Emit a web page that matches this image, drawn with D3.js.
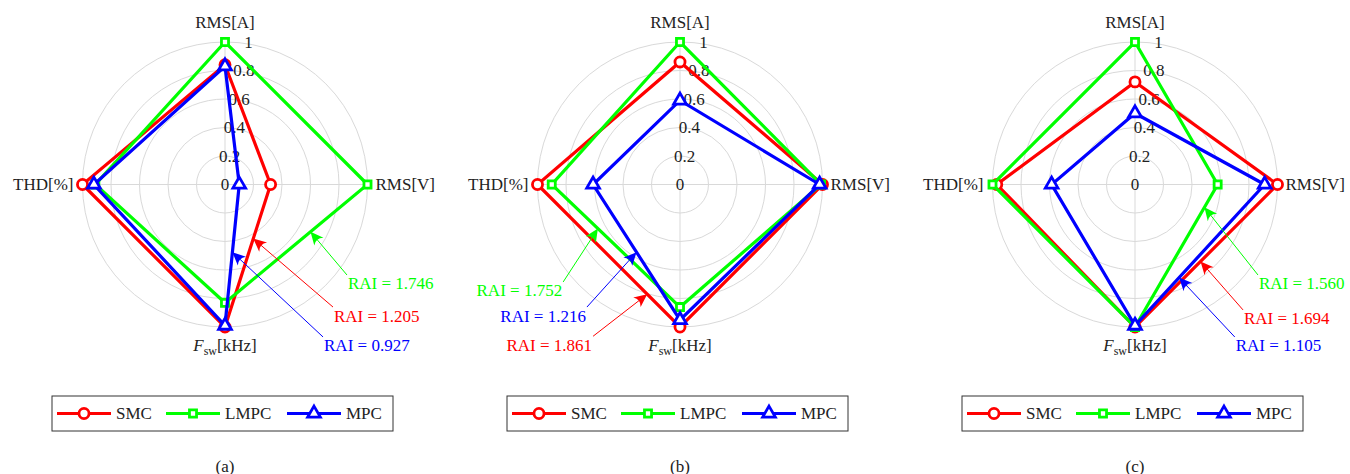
<!DOCTYPE html>
<meta charset="utf-8">
<style>
body { margin: 0; background: #fff; }
text { font-family: "Liberation Serif", "Times New Roman", serif; fill: #222; }
.grid { fill: none; stroke: #d9d9d9; stroke-width: 1px; }
.series { fill: none; stroke-width: 3.2px; stroke-linejoin: miter; }
</style>
<body>
<script src="https://d3js.org/d3.v7.min.js"></script>
<script>

// ---- data ----
var panels = ["(a)", "(b)", "(c)"];
var axisNames = ["RMS[V]", "RMS[A]", "THD[%]", "Fsw[kHz]"];   // counter-clockwise from the right
var axisAngles = [0, 90, 180, 270];
var ticks = [0, 0.2, 0.4, 0.6, 0.8, 1];
var seriesNames = ["SMC", "LMPC", "MPC"];
var seriesColors = ["#ff0000", "#00ff00", "#0000ff"];

// values per panel, in axis order RMS[V], RMS[A], THD[%], Fsw
var smc  = [[0.32, 0.84, 1.00, 1.00], [1.00, 0.86, 1.00, 1.00], [1.00, 0.72, 0.97, 1.00]];
var lmpc = [[1.00, 1.00, 0.91, 0.83], [0.99, 1.00, 0.90, 0.86], [0.58, 1.00, 1.00, 1.00]];
var mpc  = [[0.10, 0.83, 0.92, 0.99], [0.98, 0.59, 0.61, 0.95], [0.91, 0.50, 0.585, 0.99]];
var rai  = [[1.205, 1.746, 0.927], [1.861, 1.752, 1.216], [1.694, 1.560, 1.105]];

// where each RAI arrow points: edge between two axes, fraction along it,
// and where the label sits (in radius units, relative to the centre)
var notes = [
  [{s: 0, edge: [0, 3], t: 0.38, lx: 0.758, ly: -0.86, anchor: "start"},
   {s: 1, edge: [0, 3], t: 0.40, lx: 0.856, ly: -0.635, anchor: "start"},
   {s: 2, edge: [0, 3], t: 0.48, lx: 0.688, ly: -1.07, anchor: "start"}],
  [{s: 0, edge: [2, 3], t: 0.77, lx: -0.61, ly: -1.065, anchor: "end"},
   {s: 1, edge: [2, 3], t: 0.36, lx: -0.82, ly: -0.684, anchor: "end"},
   {s: 2, edge: [2, 3], t: 0.50, lx: -0.653, ly: -0.86, anchor: "end"}],
  [{s: 0, edge: [0, 3], t: 0.54, lx: 0.758, ly: -0.88, anchor: "start"},
   {s: 1, edge: [0, 3], t: 0.16, lx: 0.863, ly: -0.635, anchor: "start"},
   {s: 2, edge: [0, 3], t: 0.66, lx: 0.70, ly: -1.07, anchor: "start"}]
];

// ---- layout ----
var width = 1350, height = 474;
var cy = 184.5, R = 142.5;

var svg = d3.select("body").append("svg")
    .attr("width", width)
    .attr("height", height);

var px = d3.scalePoint().domain(panels).range([225, 1135]);
var r = d3.scaleLinear().domain([0, 1]).range([0, R]);

var symbols = [
  d3.symbol().type(d3.symbolCircle).size(80),
  d3.symbol().type(d3.symbolSquare).size(50),
  d3.symbol().type(d3.symbolTriangle).size(70)
];

function rad(deg) { return deg * Math.PI / 180; }
// polar -> cartesian (screen), pgf style angles
function pt(v, deg) {
  return [r(v) * Math.cos(rad(deg)), -r(v) * Math.sin(rad(deg))];
}

var radial = d3.lineRadial()
    .angle(function(d, i) { return Math.PI / 2 - rad(axisAngles[i]); })
    .radius(function(d) { return r(d); })
    .curve(d3.curveLinearClosed);

panels.forEach(function(p, pi) {
  var g = svg.append("g")
      .attr("transform", "translate(" + px(p) + "," + cy + ")");

  // grid rings and spokes
  g.selectAll("circle.grid")
    .data(ticks.slice(1)).enter()
    .append("circle")
      .attr("class", "grid")
      .attr("r", function(d) { return r(d); });
  g.selectAll("line.grid")
    .data(axisAngles).enter()
    .append("line")
      .attr("class", "grid")
      .attr("x1", 0).attr("y1", 0)
      .attr("x2", function(d) { return pt(1, d)[0]; })
      .attr("y2", function(d) { return pt(1, d)[1]; });

  // tick labels along the top spoke
  g.selectAll("text.tick")
    .data(ticks).enter()
    .append("text")
      .attr("class", "tick")
      .attr("x", function(d) { return r(d) * 0.165; })
      .attr("y", function(d) { return -r(d); })
      .attr("text-anchor", "middle")
      .attr("dominant-baseline", "central")
      .style("font-size", "17px")
      .text(function(d) { return d; });

  // axis labels
  var lab = g.append("g").style("font-size", "17px");
  lab.append("text").attr("x", r(1) + 8).attr("y", 0)
     .attr("dominant-baseline", "central").text(axisNames[0]);
  lab.append("text").attr("x", 0).attr("y", -r(1) - 20).attr("text-anchor", "middle")
     .attr("dominant-baseline", "central").text(axisNames[1]);
  lab.append("text").attr("x", -r(1) - 9).attr("y", 0).attr("text-anchor", "end")
     .attr("dominant-baseline", "central").text(axisNames[2]);
  var fl = lab.append("text").attr("x", 0).attr("y", r(1) + 24).attr("text-anchor", "middle");
  fl.append("tspan").style("font-style", "italic").text("F");
  fl.append("tspan").attr("dy", 4).style("font-size", "12px").text("sw");
  fl.append("tspan").attr("dy", -4).text("[kHz]");

  // series
  var data = [smc[pi], lmpc[pi], mpc[pi]];
  data.forEach(function(vals, si) {
    g.append("path")
        .attr("class", "series")
        .attr("d", radial(vals))
        .style("stroke", seriesColors[si]);
    g.selectAll("path.mk" + si)
      .data(vals).enter()
      .append("path")
        .attr("class", "mk" + si)
        .attr("d", symbols[si])
        .attr("transform", function(d, i) {
          var c = pt(d, axisAngles[i]);
          return "translate(" + c[0] + "," + c[1] + ")";
        })
        .style("fill", "#fff")
        .style("stroke", seriesColors[si])
        .style("stroke-width", 2.8);
  });

  // RAI annotations
  notes[pi].forEach(function(n) {
    var vals = data[n.s];
    var a = pt(vals[n.edge[0]], axisAngles[n.edge[0]]);
    var b = pt(vals[n.edge[1]], axisAngles[n.edge[1]]);
    var tip = [a[0] + (b[0] - a[0]) * n.t, a[1] + (b[1] - a[1]) * n.t];
    var st = [r(n.lx), -r(n.ly)];
    var ang = Math.atan2(tip[1] - st[1], tip[0] - st[0]);
    var col = seriesColors[n.s];
    g.append("line")
        .attr("x1", st[0]).attr("y1", st[1])
        .attr("x2", tip[0] - 8 * Math.cos(ang)).attr("y2", tip[1] - 8 * Math.sin(ang))
        .style("stroke", col).style("stroke-width", 1);
    g.append("path")
        .attr("d", "M0,0L-13,-6Q-8,0,-13,6Z")
        .attr("transform", "translate(" + tip[0] + "," + tip[1] + ") rotate(" + (ang * 180 / Math.PI) + ")")
        .style("fill", col);
    g.append("text")
        .attr("x", st[0] + (n.anchor == "start" ? 1 : -1))
        .attr("y", st[1] + 9)
        .attr("text-anchor", n.anchor)
        .attr("dominant-baseline", "central")
        .style("font-size", "17px")
        .style("fill", col)
        .text("RAI = " + d3.format(".3f")(rai[pi][n.s]));
  });

  // legend
  var lg = g.append("g").attr("transform", "translate(-173," + (396 - cy) + ")");
  lg.append("rect")
      .attr("width", 341).attr("height", 35)
      .style("fill", "#fff").style("stroke", "#333").style("stroke-width", 1);
  var entryX = [5, 114, 235];
  seriesNames.forEach(function(name, si) {
    var e = lg.append("g").attr("transform", "translate(" + entryX[si] + ",17.5)");
    e.append("line").attr("x1", 0).attr("x2", 54)
        .style("stroke", seriesColors[si]).style("stroke-width", 3.2);
    e.append("path").attr("d", symbols[si])
        .attr("transform", "translate(27,0)")
        .style("fill", "#fff").style("stroke", seriesColors[si]).style("stroke-width", 2.8);
    e.append("text").attr("x", 59).attr("y", 0)
        .attr("dominant-baseline", "central")
        .style("font-size", "17px")
        .text(name);
  });

  // caption
  g.append("text")
      .attr("x", 0).attr("y", 466 - cy)
      .attr("text-anchor", "middle")
      .attr("dominant-baseline", "central")
      .style("font-size", "17px")
      .text(p);
});

</script>
</body>
